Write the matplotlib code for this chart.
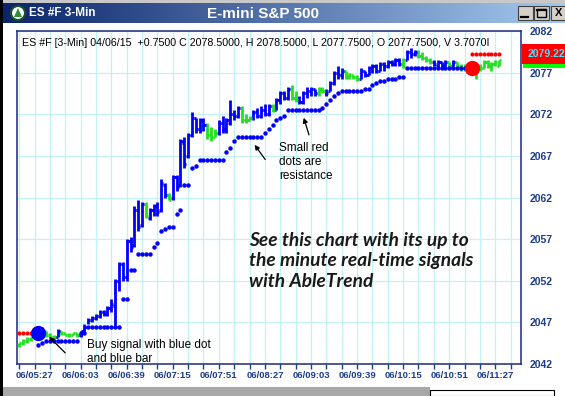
import matplotlib.pyplot as plt
from matplotlib.patches import Rectangle, Circle, Polygon
from matplotlib.colors import LinearSegmentedColormap
from matplotlib.transforms import blended_transform_factory
import numpy as np

plt.rcParams['font.family'] = ['Liberation Sans', 'DejaVu Sans']

# 3-min OHLC bars, first bar is 4 bars before 06/05:27
first_bar = -4
opens = [2044.25, 2044.5, 2044.75, 2045.0, 2045.25, 2045.5, 2046.0, 2046.0, 2045.5, 2045.25,
         2045.25, 2046.0, 2045.75, 2045.5, 2045.5, 2045.75, 2045.5, 2046.0, 2046.5, 2047.25,
         2047.5, 2047.75, 2048.25, 2048.0, 2048.75, 2049.0, 2052.0, 2054.0, 2052.5, 2056.75,
         2056.25, 2060.5, 2058.75, 2061.25, 2059.5, 2060.5, 2061.0, 2060.5, 2063.5, 2062.25,
         2062.0, 2064.5, 2063.5, 2068.5, 2067.0, 2069.5, 2071.5, 2070.25, 2071.25, 2070.75,
         2069.5, 2069.25, 2069.75, 2071.0, 2070.25, 2071.0, 2072.0, 2071.75, 2072.75, 2071.25,
         2071.25, 2071.5, 2072.25, 2071.75, 2072.5, 2072.0, 2073.0, 2072.5, 2073.75, 2074.5,
         2074.0, 2075.0, 2074.0, 2073.75, 2073.5, 2074.5, 2074.75, 2075.0, 2074.5, 2075.0,
         2074.75, 2074.75, 2075.75, 2077.0, 2076.75, 2077.25, 2076.5, 2076.75, 2076.5, 2076.25,
         2077.25, 2076.75, 2077.5, 2077.75, 2077.25, 2078.0, 2077.75, 2078.25, 2078.0, 2078.5,
         2078.0, 2078.5, 2079.5, 2079.25, 2079.5, 2079.0, 2078.75, 2078.5, 2078.25, 2077.75,
         2078.25, 2077.75, 2078.25, 2077.75, 2078.25, 2077.75, 2077.5, 2077.75, 2077.25, 2077.5,
         2077.75, 2077.5, 2078.25, 2077.75, 2078.0, 2077.75]
highs = [2044.5, 2045.0, 2045.25, 2045.25, 2045.75, 2046.25, 2046.5, 2046.0, 2045.75, 2045.5,
         2046.25, 2046.0, 2045.75, 2045.75, 2045.75, 2045.75, 2046.0, 2046.75, 2047.5, 2047.75,
         2048.0, 2048.5, 2048.5, 2049.0, 2049.75, 2052.25, 2054.25, 2054.25, 2057.0, 2057.25,
         2061.0, 2061.75, 2061.5, 2061.5, 2060.75, 2061.25, 2061.5, 2064.25, 2063.75, 2062.5,
         2064.75, 2064.75, 2069.0, 2069.25, 2069.75, 2072.25, 2071.5, 2071.5, 2071.5, 2071.0,
         2070.5, 2070.25, 2071.25, 2071.75, 2071.5, 2073.75, 2072.5, 2073.0, 2073.0, 2072.0,
         2071.75, 2072.5, 2072.75, 2073.0, 2073.25, 2073.25, 2073.25, 2074.0, 2074.75, 2074.75,
         2075.25, 2075.5, 2074.75, 2074.25, 2074.75, 2075.25, 2075.25, 2075.0, 2075.25, 2075.25,
         2075.0, 2076.0, 2077.25, 2077.75, 2077.5, 2077.25, 2077.0, 2076.75, 2076.75, 2077.5,
         2077.25, 2077.75, 2078.0, 2078.0, 2078.25, 2078.25, 2078.5, 2078.5, 2078.75, 2078.75,
         2078.75, 2079.75, 2080.0, 2079.75, 2079.75, 2079.5, 2079.0, 2078.75, 2078.5, 2078.5,
         2078.25, 2078.5, 2078.25, 2078.5, 2078.25, 2078.0, 2078.0, 2078.0, 2077.75, 2078.0,
         2078.0, 2078.5, 2078.5, 2078.25, 2078.5, 2078.5]
lows = [2044.0, 2044.25, 2044.5, 2044.75, 2045.0, 2045.25, 2045.5, 2045.25, 2045.0, 2045.0,
        2045.25, 2045.5, 2045.5, 2045.25, 2045.5, 2045.25, 2045.25, 2045.75, 2046.75, 2047.0,
        2047.25, 2047.5, 2047.75, 2047.75, 2048.25, 2046.5, 2050.75, 2052.0, 2052.0, 2055.5,
        2056.0, 2058.0, 2058.5, 2059.5, 2059.25, 2059.75, 2059.75, 2060.25, 2062.0, 2061.75,
        2061.75, 2062.75, 2063.25, 2065.5, 2066.75, 2069.25, 2069.75, 2069.75, 2070.0, 2069.0,
        2068.75, 2069.25, 2069.5, 2069.75, 2069.75, 2070.75, 2071.25, 2071.5, 2071.0, 2071.0,
        2071.25, 2071.25, 2071.5, 2071.5, 2071.75, 2071.75, 2072.25, 2072.5, 2073.25, 2073.75,
        2073.75, 2073.75, 2073.5, 2073.25, 2073.25, 2074.0, 2074.25, 2074.25, 2074.25, 2074.5,
        2074.25, 2074.75, 2075.5, 2076.25, 2076.25, 2076.25, 2076.25, 2076.25, 2076.0, 2076.25,
        2076.5, 2076.75, 2077.0, 2077.0, 2077.25, 2077.25, 2077.5, 2077.75, 2077.75, 2077.75,
        2077.5, 2078.5, 2078.75, 2079.0, 2078.75, 2078.5, 2078.25, 2078.0, 2077.75, 2077.5,
        2077.5, 2077.75, 2077.5, 2077.75, 2077.75, 2077.25, 2077.25, 2077.0, 2076.75, 2076.25,
        2077.25, 2077.5, 2077.5, 2077.25, 2077.75, 2077.75]
closes = [2044.5, 2044.75, 2045.0, 2045.25, 2045.5, 2046.0, 2046.0, 2045.5, 2045.25, 2045.25,
          2046.0, 2045.75, 2045.5, 2045.5, 2045.75, 2045.5, 2046.0, 2046.5, 2047.25, 2047.5,
          2047.75, 2048.25, 2048.0, 2048.75, 2049.25, 2052.0, 2054.0, 2052.5, 2056.75, 2056.0,
          2060.5, 2058.5, 2061.25, 2059.75, 2060.5, 2061.0, 2060.25, 2063.75, 2062.25, 2061.75,
          2064.5, 2063.25, 2068.75, 2066.0, 2069.5, 2071.5, 2070.25, 2071.25, 2070.75, 2069.5,
          2069.25, 2069.75, 2071.0, 2070.25, 2071.25, 2072.0, 2071.75, 2072.75, 2071.25, 2071.25,
          2071.5, 2072.25, 2071.75, 2072.5, 2072.0, 2073.0, 2072.5, 2073.75, 2074.5, 2074.0,
          2075.0, 2074.0, 2073.75, 2073.5, 2074.5, 2074.75, 2075.0, 2074.5, 2075.0, 2074.75,
          2074.5, 2075.75, 2077.0, 2076.75, 2077.25, 2076.5, 2076.75, 2076.5, 2076.25, 2077.25,
          2076.75, 2077.5, 2077.75, 2077.25, 2078.0, 2077.75, 2078.25, 2078.0, 2078.5, 2078.0,
          2077.75, 2079.5, 2079.25, 2079.5, 2079.0, 2078.75, 2078.5, 2078.25, 2078.0, 2078.25,
          2077.75, 2078.25, 2077.75, 2078.25, 2077.75, 2077.5, 2077.75, 2077.25, 2077.5, 2077.75,
          2077.5, 2078.25, 2077.75, 2078.0, 2078.25, 2078.5]
bar_colors = ("gggggbbggg" "bgggggbbbb" "bbbbbbbbbb" "bbbgbbbbbg" "bbbbbbbbbg"
              "ggbbbbbbgg" "gbbbbbgbbb" "bggbbbbbgg" "bbbbbggggb" "bbbbbbbbbb"
              "gbbbggggb" "b" "bbgbgggggg" "gggggg")

# support (trailing stop) dots, from bar 1 to bar 113
support_start = 1
support = [2044.25, 2044.5,
           2044.75, 2044.75, 2044.75, 2044.75, 2044.75, 2044.75, 2044.75, 2044.75, 2044.75,
           2045.75, 2045.75,
           2046.5, 2046.5, 2046.5, 2046.5, 2046.5, 2046.5, 2046.5, 2046.5, 2046.5,
           2049.75, 2049.75, 2053.25, 2053.25, 2055.25, 2055.25, 2055.25, 2055.25,
           2056.0, 2056.5, 2058.0, 2058.25, 2058.5, 2058.5, 2060.0, 2060.5, 2063.5, 2063.5,
           2065.5, 2065.75, 2066.5, 2066.5, 2066.5, 2066.5, 2066.5, 2066.5, 2066.5,
           2067.5, 2068.0, 2068.75,
           2069.25, 2069.25, 2069.25, 2069.25, 2069.25, 2069.25, 2069.25,
           2069.75, 2070.25, 2070.75, 2071.25, 2071.5, 2071.75,
           2072.5, 2072.5, 2072.5, 2072.5, 2072.5, 2072.5, 2072.5, 2072.5, 2072.5,
           2072.75, 2073.25, 2073.75, 2074.25, 2074.5,
           2074.75, 2074.75, 2074.75, 2074.75, 2074.75, 2074.75,
           2075.0, 2075.0, 2075.5, 2075.75, 2076.0, 2076.0, 2076.25, 2076.25, 2076.25,
           2076.5, 2076.5,
           2077.5, 2077.5, 2077.5, 2077.5, 2077.5, 2077.5, 2077.5, 2077.5, 2077.5,
           2077.5, 2077.5, 2077.5, 2077.5, 2077.5, 2077.5, 2077.5, 2077.5]

# resistance dots
resist_left_start = -4
resist_left = [2045.75, 2045.75, 2045.75, 2045.75, 2045.75]
resist_right_start = 114
resist_right = [2079.22, 2079.22, 2079.22, 2079.22, 2079.22, 2079.22, 2079.22, 2079.22]

buy_bar, buy_price = 1, 2045.75
sell_bar, sell_price = 114, 2077.5
resist_label = 2079.22
last_close = 2078.5

time_labels = ["06/05:27", "06/06:03", "06/06:39", "06/07:15", "06/07:51", "06/08:27",
               "06/09:03", "06/09:39", "06/10:15", "06/10:51", "06/11:27"]
price_ticks = [2042, 2047, 2052, 2057, 2062, 2067, 2072, 2077, 2082]

navy = '#1c3c8c'
blue = '#0000ff'
green = '#22e022'
red = '#ff0000'

fig = plt.figure(figsize=(5.65, 3.96), dpi=100)
fig.patch.set_facecolor('white')

# window chrome in pixel coordinates
ov = fig.add_axes([0, 0, 1, 1], zorder=-1)
cmap = LinearSegmentedColormap.from_list('tb', ['#0a246a', '#a6caf0'])
ov.imshow(np.linspace(0, 1, 256)[None, :], extent=(3, 565, 23, 3), aspect='auto', cmap=cmap)
ov.add_patch(Rectangle((0, 0), 565, 3, fc='#c8c8c8', ec='none'))
ov.add_patch(Rectangle((0, 0), 3, 396, fc='black', ec='none'))
ov.add_patch(Rectangle((3, 387), 427, 9, fc='#a8a8a8', ec='none'))
ov.add_patch(Rectangle((430, 390), 124, 6, fc='white', ec='black', lw=0.8))
# icon
ov.add_patch(Circle((18, 13), 7, fc='white', ec='#1d4d2d', lw=1.5))
ov.add_patch(Polygon([(14, 17), (18, 8), (22, 17)], closed=True, fc='#2f8f3f', ec='none'))
ov.text(29, 13.5, "ES #F 3-Min", color='white', fontsize=8.5, fontweight='bold', va='center')
ov.text(263, 14, "E-mini S&P 500", color='white', fontsize=11, fontweight='bold',
        va='center', ha='center')
# window buttons
for bx in (518, 534, 551):
    ov.add_patch(Rectangle((bx, 6), 15, 14, fc='#d4d0c8', ec='#404040', lw=0.8))
ov.plot([521, 528], [17, 17], color='black', lw=1.6)
ov.add_patch(Rectangle((537, 9), 9, 8, fc='none', ec='black', lw=1.0))
ov.plot([537, 546], [9.5, 9.5], color='black', lw=1.6)
ov.text(558.5, 13.5, "X", color='black', fontsize=8, fontweight='bold', ha='center', va='center')
ov.set_xlim(0, 565)
ov.set_ylim(396, 0)
ov.axis('off')

# main chart
ax = fig.add_axes([17 / 565, 1 - 364 / 396, 504 / 565, 333 / 396])
ax.set_facecolor('white')

idx = np.arange(first_bar, first_bar + len(opens))
cols = [blue if c == 'b' else green for c in bar_colors]
half = 0.55
ax.vlines(idx, lows, highs, colors=cols, lw=2.0, zorder=3)
ax.hlines(opens, idx - half, idx, colors=cols, lw=2.0, zorder=3)
ax.hlines(closes, idx, idx + half, colors=cols, lw=2.0, zorder=3)

sup_idx = np.arange(support_start, support_start + len(support))
ax.plot(sup_idx, support, 'o', color=blue, ms=3.2, mew=0, ls='none', zorder=4)
ax.plot(np.arange(resist_left_start, resist_left_start + len(resist_left)), resist_left,
        'o', color=red, ms=3.0, mew=0, ls='none', zorder=4)
ax.plot(np.arange(resist_right_start, resist_right_start + len(resist_right)), resist_right,
        'o', color=red, ms=3.0, mew=0, ls='none', zorder=4)
ax.plot([buy_bar], [buy_price], 'o', color=blue, ms=11, mew=0, zorder=5)
ax.plot([sell_bar], [sell_price], 'o', color=red, ms=11, mew=0, zorder=5)

ax.set_xlim(-4.56, 126.7)
ax.set_ylim(2042, 2082)
ax.set_xticks(np.arange(0, 121, 12))
ax.set_xticklabels(time_labels)
ax.set_xticks(np.arange(-4, 125, 4), minor=True)
ax.tick_params(axis='x', which='both', direction='out', length=3.5, width=1, color=navy,
               labelsize=6.8, labelcolor=navy, pad=1.5)
for lab in ax.get_xticklabels():
    lab.set_fontweight('bold')
ax.yaxis.tick_right()
ax.set_yticks(price_ticks)
ax.tick_params(axis='y', length=0, pad=6.5, labelsize=7.5, labelcolor=navy)
for lab in ax.get_yticklabels():
    lab.set_fontweight('bold')
ax.grid(True, which='both', color='#c4f2f4', lw=0.9, zorder=0)
ax.set_axisbelow(True)
for sp in ax.spines.values():
    sp.set_color('#1a2a7a')
    sp.set_linewidth(1.1)

# price labels on the right
tr = blended_transform_factory(ax.transAxes, ax.transData)
ax.add_patch(Rectangle((1.004, last_close - 1.0), 0.1, 2.0, transform=tr, fc='#00ff00',
                       ec='none', clip_on=False, zorder=6))
ax.text(1.013, resist_label, f"{resist_label:.2f}", transform=tr, va='center', ha='left',
        fontsize=7.5, fontweight='bold', color='#40e8ff', clip_on=False, zorder=7,
        bbox=dict(boxstyle='square,pad=0.5', fc=red, ec='none'))

# header line
ax.text(0.01, 0.964, "ES #F [3-Min] 04/06/15  +0.7500 C 2078.5000, H 2078.5000, "
        "L 2077.7500, O 2077.7500, V 3.7070I", transform=ax.transAxes, fontsize=7.7,
        color='black', va='center', ha='left', zorder=8)

# annotations
arrow = dict(arrowstyle='-|>', color='black', lw=0.9, mutation_scale=7)
ax.annotate('', xy=(3.3, 2045.5), xytext=(8.5, 2043.1), arrowprops=arrow, zorder=6)
ax.annotate('', xy=(56.9, 2068.6), xytext=(60.5, 2066.3), arrowprops=arrow, zorder=6)
ax.annotate('', xy=(69.9, 2071.9), xytext=(71.7, 2069.2), arrowprops=arrow, zorder=6)
ax.text(13.7, 2043.48, "Buy signal with blue dot\nand blue bar", fontsize=8.5, color='black',
        va='center', ha='left', linespacing=1.25, zorder=6)
ax.text(63.7, 2066.28, "Small red\ndots are\nresistance", fontsize=8.5, color='black',
        va='center', ha='left', linespacing=1.25, zorder=6)
ax.text(55.9, 2054.4, "See this chart with its up to\nthe minute real-time signals\nwith AbleTrend",
        fontsize=13.8, family=['Lato', 'DejaVu Sans'], fontweight='bold', style='italic',
        color='#1a1a1a', va='center', ha='left', linespacing=1.25, zorder=6)

fig.savefig('out.png', dpi=100)
